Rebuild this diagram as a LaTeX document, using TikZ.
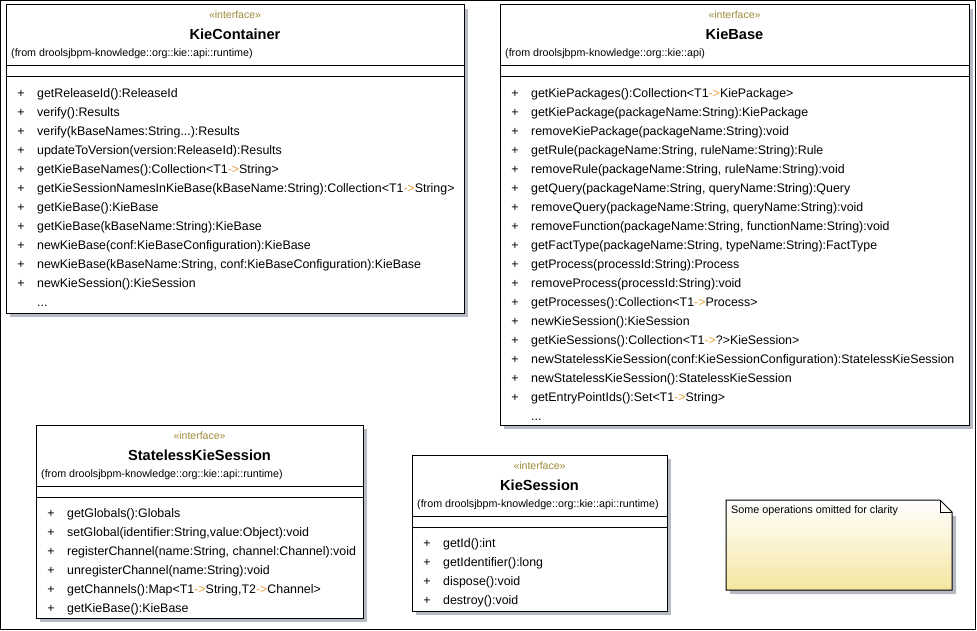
\documentclass[tikz,border=0pt]{standalone}
\usepackage{fontspec}
\setmainfont{Liberation Sans}
\definecolor{stereoc}{HTML}{9F8B3A}
\definecolor{arrowc}{HTML}{E8A33D}
\definecolor{shadowc}{HTML}{B6BAC2}
\definecolor{noteyel}{HTML}{F5E6A0}
\newcommand\arw{\textcolor{arrowc}{->}}
\newcommand\tdots{...}
\tikzset{
  boxline/.style={draw=black, line width=1pt},
  stereo/.style={anchor=base, inner sep=0pt, text=stereoc, font=\fontsize{10.5}{12}\selectfont},
  title/.style={anchor=base, inner sep=0pt, font=\fontsize{14.6}{16}\selectfont\bfseries},
  fromtxt/.style={anchor=base west, inner sep=0pt, font=\fontsize{10.7}{13}\selectfont},
  plus/.style={anchor=base, inner sep=0pt, font=\fontsize{12.4}{14}\selectfont},
  meth/.style={anchor=base west, inner sep=0pt, font=\fontsize{12.4}{14}\selectfont},
  notetxt/.style={anchor=base west, inner sep=0pt, font=\fontsize{10.8}{12}\selectfont}
}
% #1 name, #2 left, #3 top, #4 right, #5 bottom, #6 title, #7 package
\newcommand\umlclass[7]{%
  \coordinate (#1-nw) at (#2,#3);
  \coordinate (#1-se) at (#4,#5);
  \fill[shadowc] (#2+4,#3+4) rectangle (#4+4,#5+4);
  \draw[boxline, fill=white] (#1-nw) rectangle (#1-se);
  \draw[boxline] (#2,#3+61) -- (#4,#3+61);
  \draw[boxline] (#2,#3+72) -- (#4,#3+72);
  \node[stereo] (#1-st) at ({(#2+#4)/2},#3+14) {«interface»};
  \node[title] (#1-ti) at ({(#2+#4)/2},#3+35) {#6};
  \node[fromtxt] (#1-fr) at (#2+5,#3+52) {(from #7)};
}
% #1 name, #2 left, #3 top, #4 list of operations
\newcommand\umlops[4]{%
  \foreach \m [count=\i] in {#4} {
    \node[plus] (#1-p\i) at (#2+15,{#3+92.5+(\i-1)*19}) {+};
    \node[meth] (#1-m\i) at (#2+31,{#3+92.5+(\i-1)*19}) {\m};
  }
}
\begin{document}
\begin{tikzpicture}[x=1pt,y=-1pt]
\useasboundingbox (0,0) rectangle (977,631);
\fill[white] (0,0) rectangle (977,631);
\draw[line width=1pt] (0.5,0.5) rectangle (975.5,629.5);

% KieContainer
\umlclass{kc}{6}{5}{464}{313}{KieContainer}{droolsjbpm-knowledge::org::kie::api::runtime}
\umlops{kc}{6}{5}{{getReleaseId():ReleaseId},
 {verify():Results},
 {verify(kBaseNames:String\tdots):Results},
 {updateToVersion(version:ReleaseId):Results},
 {getKieBaseNames():Collection<T1\arw String>},
 {getKieSessionNamesInKieBase(kBaseName:String):Collection<T1\arw String>},
 {getKieBase():KieBase},
 {getKieBase(kBaseName:String):KieBase},
 {newKieBase(conf:KieBaseConfiguration):KieBase},
 {newKieBase(kBaseName:String, conf:KieBaseConfiguration):KieBase},
 {newKieSession():KieSession}}
\node[meth] (kc-dots) at (37,{5+92.5+11*19}) {\tdots};

% KieBase
\umlclass{kb}{500}{5}{969}{425}{KieBase}{droolsjbpm-knowledge::org::kie::api}
\umlops{kb}{500}{5}{{getKiePackages():Collection<T1\arw KiePackage>},
 {getKiePackage(packageName:String):KiePackage},
 {removeKiePackage(packageName:String):void},
 {getRule(packageName:String, ruleName:String):Rule},
 {removeRule(packageName:String, ruleName:String):void},
 {getQuery(packageName:String, queryName:String):Query},
 {removeQuery(packageName:String, queryName:String):void},
 {removeFunction(packageName:String, functionName:String):void},
 {getFactType(packageName:String, typeName:String):FactType},
 {getProcess(processId:String):Process},
 {removeProcess(processId:String):void},
 {getProcesses():Collection<T1\arw Process>},
 {newKieSession():KieSession},
 {getKieSessions():Collection<T1\arw ?>KieSession>},
 {newStatelessKieSession(conf:KieSessionConfiguration):StatelessKieSession},
 {newStatelessKieSession():StatelessKieSession},
 {getEntryPointIds():Set<T1\arw String>}}
\node[meth] (kb-dots) at (531,{5+92.5+17*19}) {\tdots};

% StatelessKieSession
\umlclass{sk}{36}{425}{363}{618}{StatelessKieSession}{droolsjbpm-knowledge::org::kie::api::runtime}
\umlops{sk}{36}{425}{{getGlobals():Globals},
 {setGlobal(identifier:String,value:Object):void},
 {registerChannel(name:String, channel:Channel):void},
 {unregisterChannel(name:String):void},
 {getChannels():Map<T1\arw String,T2\arw Channel>},
 {getKieBase():KieBase}}

% KieSession
\umlclass{ks}{412}{455}{667}{611}{KieSession}{droolsjbpm-knowledge::org::kie::api::runtime}
\umlops{ks}{412}{455}{{getId():int},
 {getIdentifier():long},
 {dispose():void},
 {destroy():void}}

% Note
\coordinate (n1) at (726,500);
\coordinate (n2) at (940,500);
\coordinate (n3) at (952,512);
\coordinate (n4) at (952,590);
\coordinate (n5) at (726,590);
\fill[shadowc] (730,504) -- (956,516) -- (956,594) -- (730,594) -- cycle;
\shade[top color=white, bottom color=noteyel] (n1) -- (n2) -- (n3) -- (n4) -- (n5) -- cycle;
\draw[boxline] (n1) -- (n2) -- (n3) -- (n4) -- (n5) -- cycle;
\draw[line width=0.8pt] (n2) -- (940,512) -- (n3);
\node[notetxt] (note) at (731,513) {Some operations omitted for clarity};
\end{tikzpicture}
\end{document}
